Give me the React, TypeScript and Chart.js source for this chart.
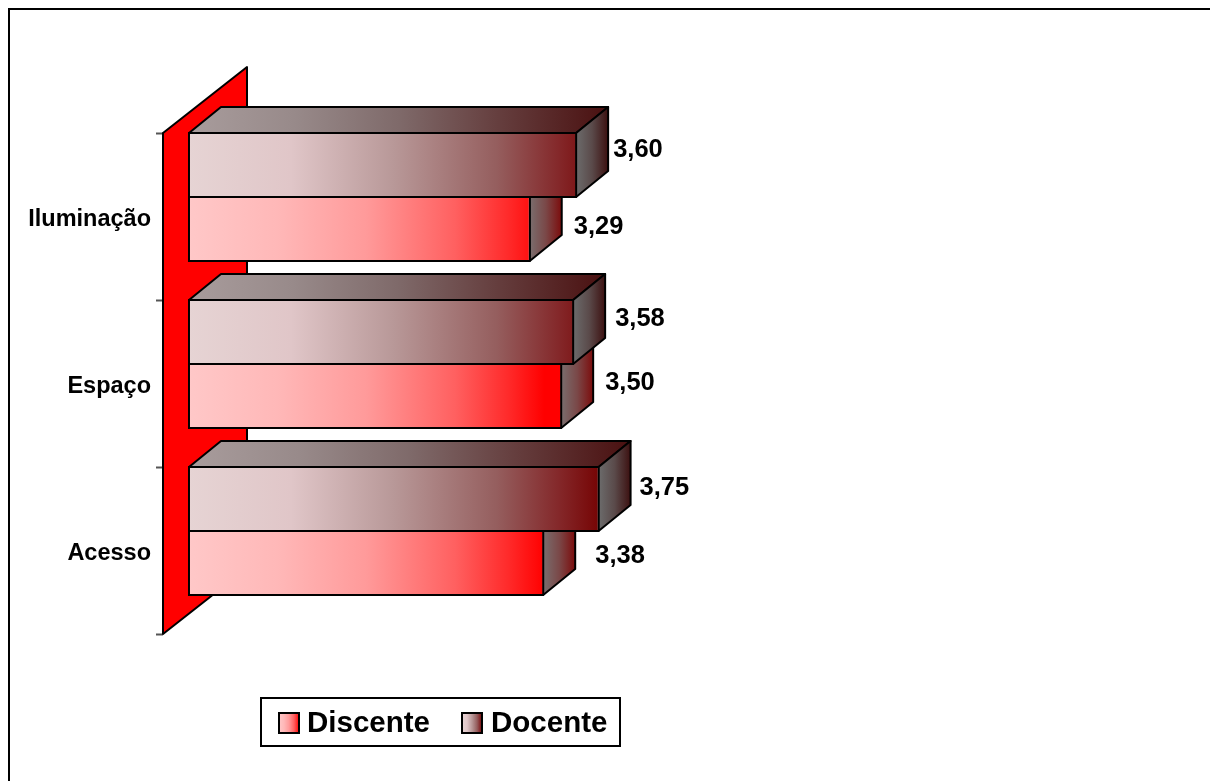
import React, { useEffect, useRef } from "react";
import { Chart, registerables } from "chart.js";

Chart.register(...registerables);

const categories = ["Iluminação", "Espaço", "Acesso"];
const docente = [3.6, 3.58, 3.75];
const discente = [3.29, 3.5, 3.38];
const seriesNames = { discente: "Discente", docente: "Docente" };

// hand-placed data labels, relative to the bar's front end/centre
const docenteLabelNudge = [[37, -16], [42, -14], [41, -12]];
const discenteLabelNudge = [[44, -3], [44, -14], [52, -8]];

const FONT = '"Liberation Sans", Arial, sans-serif';
const DEPTH_X = 32;
const DEPTH_Y = -26;
const WALL_X = 84;
const WALL_Y = -66;
const BAR_SHIFT = -19.5;

type Stops = [number, string][];
const frontStops: Record<string, Stops> = {
  Discente: [[0, "#ffc8c8"], [0.25, "#ffb8b8"], [0.5, "#ff9a9a"], [0.75, "#ff6060"], [0.9, "#ff2a2a"], [1, "#ff0000"]],
  Docente: [[0, "#e6d4d4"], [0.25, "#e0c6c8"], [0.5, "#b89898"], [0.75, "#955e5e"], [0.9, "#84282a"], [1, "#760404"]],
};
const topStops: Record<string, Stops> = {
  Discente: [[0, "#a89c9c"], [1, "#801010"]],
  Docente: [[0, "#a89c9c"], [0.25, "#988a8a"], [0.5, "#7f6a6a"], [0.75, "#643c3c"], [1, "#4a1010"]],
};
const sideStops: Record<string, Stops> = {
  Discente: [[0, "#7a6e6e"], [0.5, "#7a4848"], [1, "#7c0c0c"]],
  Docente: [[0, "#6c6c6c"], [0.5, "#5a4a4a"], [1, "#3c1010"]],
};

function grad(ctx: CanvasRenderingContext2D, x0: number, x1: number, stops: Stops) {
  const g = ctx.createLinearGradient(x0, 0, x1, 0);
  stops.forEach(([o, c]) => g.addColorStop(o, c));
  return g;
}

function poly(ctx: CanvasRenderingContext2D, pts: number[][], fill: any) {
  ctx.beginPath();
  pts.forEach(([x, y], i) => (i ? ctx.lineTo(x, y) : ctx.moveTo(x, y)));
  ctx.closePath();
  ctx.fillStyle = fill;
  ctx.fill();
  ctx.lineWidth = 2;
  ctx.strokeStyle = "#000";
  ctx.lineJoin = "round";
  ctx.stroke();
}

const pagePlugin = {
  id: "page",
  beforeDraw(chart: any) {
    const { ctx, width, height } = chart;
    ctx.save();
    ctx.fillStyle = "#fff";
    ctx.fillRect(0, 0, width, height);
    ctx.strokeStyle = "#000";
    ctx.lineWidth = 2;
    ctx.beginPath();
    ctx.moveTo(9, height);
    ctx.lineTo(9, 9);
    ctx.lineTo(width, 9);
    ctx.stroke();
    ctx.restore();
  },
  beforeDatasetsDraw(chart: any) {
    const { ctx, chartArea: a } = chart;
    ctx.save();
    poly(
      ctx,
      [
        [a.left, a.top],
        [a.left + WALL_X, a.top + WALL_Y],
        [a.left + WALL_X, a.bottom + WALL_Y],
        [a.left, a.bottom],
      ],
      "#ff0000"
    );
    ctx.restore();
  },
  beforeDatasetDraw(chart: any, args: any) {
    const { ctx } = chart;
    const name = chart.data.datasets[args.index].label;
    ctx.save();
    ctx.translate(0, BAR_SHIFT);
    args.meta.data.forEach((el: any) => {
      const left = el.base + 1;
      const right = el.x - 1;
      const t = el.y - el.height / 2 + 1;
      const b = el.y + el.height / 2 - 1;
      poly(
        ctx,
        [[left, t], [left + DEPTH_X, t + DEPTH_Y], [right + DEPTH_X, t + DEPTH_Y], [right, t]],
        grad(ctx, left, right + DEPTH_X, topStops[name])
      );
      poly(
        ctx,
        [[right, t], [right + DEPTH_X, t + DEPTH_Y], [right + DEPTH_X, b + DEPTH_Y], [right, b]],
        grad(ctx, right, right + DEPTH_X, sideStops[name])
      );
      // the front face runs the whole gradient along the bar's own length
      el.options.backgroundColor = grad(ctx, el.base, el.x, frontStops[name]);
    });
  },
  afterDatasetDraw(chart: any) {
    chart.ctx.restore();
  },
  afterDraw(chart: any) {
    const { ctx } = chart;
    ctx.save();
    ctx.fillStyle = "#000";
    ctx.font = `bold 25.5px ${FONT}`;
    ctx.textAlign = "left";
    ctx.textBaseline = "middle";
    chart.data.datasets.forEach((ds: any, i: number) => {
      const nudge = ds.label === seriesNames.docente ? docenteLabelNudge : discenteLabelNudge;
      chart.getDatasetMeta(i).data.forEach((el: any, j: number) => {
        const text = ds.data[j].toFixed(2).replace(".", ",");
        ctx.fillText(text, el.x - 1 + nudge[j][0], el.y + BAR_SHIFT + nudge[j][1] + 1);
      });
    });

    // legend box
    const bx = 261, by = 698, bw = 359, bh = 48;
    ctx.lineWidth = 2;
    ctx.strokeStyle = "#000";
    ctx.strokeRect(bx, by, bw, bh);
    const entries = [
      { label: seriesNames.discente, sw: 279, tx: 307 },
      { label: seriesNames.docente, sw: 462, tx: 491 },
    ];
    ctx.font = `bold 29.5px ${FONT}`;
    entries.forEach((e) => {
      ctx.fillStyle = grad(ctx, e.sw, e.sw + 20, frontStops[e.label]);
      ctx.fillRect(e.sw, by + 15, 20, 20);
      ctx.strokeRect(e.sw, by + 15, 20, 20);
      ctx.fillStyle = "#000";
      ctx.fillText(e.label, e.tx, by + 26);
    });
    ctx.restore();
  },
};

function makeDataset(label: string, data: number[]) {
  return {
    label,
    data,
    base: 1,
    backgroundColor: "#ff0000",
    borderColor: "#000",
    borderWidth: 2,
    borderSkipped: false,
    categoryPercentage: 128 / 167,
    barPercentage: 66 / 64,
    clip: false,
  };
}

export default function App() {
  const ref = useRef<HTMLCanvasElement>(null);
  useEffect(() => {
    document.body.style.margin = "0";
    const chart = new Chart(ref.current as HTMLCanvasElement, {
      type: "bar",
      data: {
        labels: categories,
        datasets: [makeDataset(seriesNames.docente, docente), makeDataset(seriesNames.discente, discente)],
      },
      plugins: [pagePlugin],
      options: {
        indexAxis: "y",
        animation: false,
        responsive: false,
        layout: { padding: { top: 133, bottom: 147, left: 0, right: 573 } },
        plugins: { legend: { display: false }, tooltip: { enabled: false }, title: { display: false } },
        scales: {
          x: { display: false, min: 0.833, max: 4 },
          y: {
            afterFit: (s: any) => {
              s.width = 163;
            },
            border: { display: false },
            grid: { drawOnChartArea: false, drawTicks: true, tickLength: 7, tickWidth: 2, tickColor: "#555", offset: true },
            ticks: {
              autoSkip: false,
              padding: 5,
              labelOffset: 3,
              color: "#000",
              font: { family: FONT, weight: "bold", size: 23.5 },
            },
          },
        },
      },
    } as any);
    return () => chart.destroy();
  }, []);
  return <canvas ref={ref} width={1210} height={781} style={{ display: "block" }} />;
}
